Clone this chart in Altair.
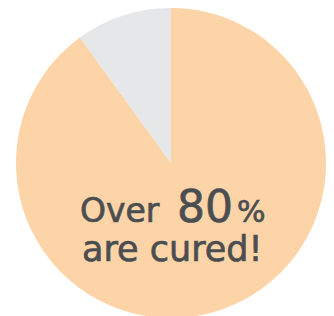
import altair as alt
import pandas as pd

labels = ["Cured", "Not cured"]
values = [90, 10]
colors = ["#FDD4A7", "#E6E7E9"]

text_line1 = "Over"
text_big = "80"
text_pct = "%"
text_line2 = "are cured!"

df = pd.DataFrame({"label": labels, "value": values, "order": list(range(len(labels)))})

pie = alt.Chart(df).mark_arc(outerRadius=155, x=163, y=155, strokeWidth=0).encode(
    theta=alt.Theta("value:Q", stack=True),
    color=alt.Color("label:N", scale=alt.Scale(domain=labels, range=colors), legend=None),
    order=alt.Order("order:Q"),
)

font = "DejaVu Sans"
tcol = "#4B4E51"
one = pd.DataFrame({"a": [0]})

def txt(s, x, y, size):
    return alt.Chart(one).mark_text(
        text=s, font=font, fontSize=size, color=tcol, align="left", baseline="alphabetic",
        stroke=tcol, strokeWidth=0.7,
    ).encode(x=alt.value(x), y=alt.value(y))

chart = alt.layer(
    pie,
    txt(text_line1, 72, 214, 33),
    txt(text_big, 169, 214, 44),
    txt(text_pct, 229, 214, 30),
    txt(text_line2, 74, 253, 35),
).properties(width=318, height=308, padding=0, autosize="none").configure_view(stroke=None)

chart.save("out.html", embed_options={"renderer": "svg", "actions": False})
